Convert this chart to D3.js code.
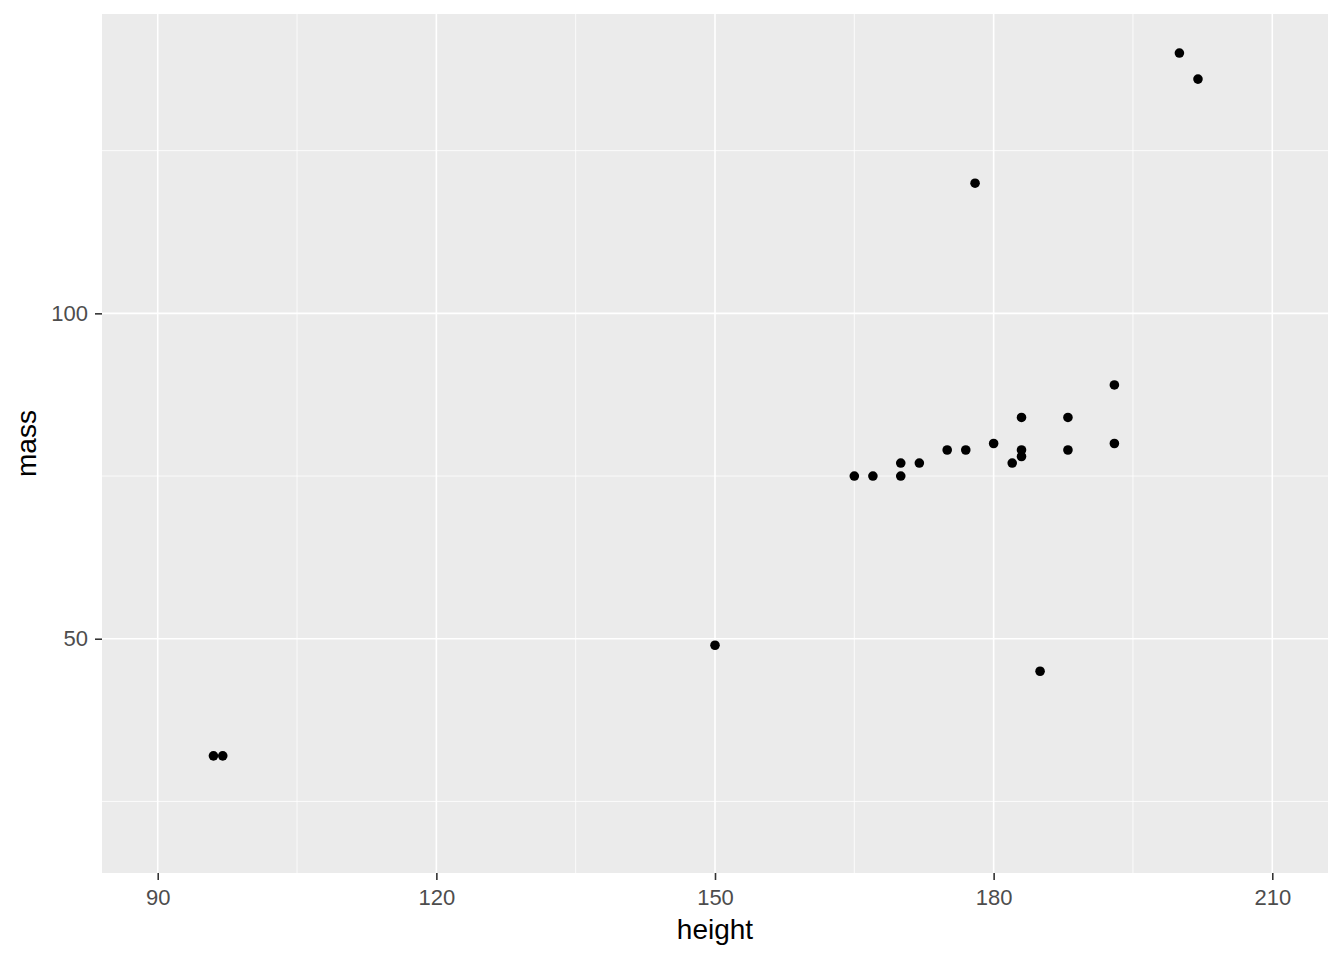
<!DOCTYPE html>
<html>
<head>
<meta charset="utf-8">
<script src="https://cdn.jsdelivr.net/npm/d3@7"></script>
<style>
  html, body { margin: 0; padding: 0; background: #ffffff; }
  svg { display: block; font-family: "Liberation Sans", Arial, sans-serif; }
</style>
</head>
<body>
<svg id="chart" width="1344" height="960"></svg>
<script>
// Data (height, mass)
const heights = [96, 97, 150, 200, 202, 178, 193, 193, 183, 188, 188, 180, 183, 183, 182, 177, 175, 172, 170, 170, 167, 165, 185];
const masses  = [32, 32, 49, 140, 136, 120, 89, 80, 84, 84, 79, 80, 79, 78, 77, 79, 79, 77, 77, 75, 75, 75, 45];
const xMajor = [90, 120, 150, 180, 210];
const xMinor = [105, 135, 165, 195];
const yMajor = [50, 100];
const yMinor = [25, 75, 125];
const xTitle = "height";
const yTitle = "mass";

const data = heights.map((h, i) => ({ x: h, y: masses[i] }));

const svg = d3.select("#chart");
const panel = { left: 102, right: 1328, top: 14, bottom: 873 };

const x = d3.scaleLinear().domain([84, 216]).range([panel.left, panel.right]);
const y = d3.scaleLinear().domain([14, 146]).range([panel.bottom, panel.top]);

svg.append("rect")
  .attr("x", panel.left).attr("y", panel.top)
  .attr("width", panel.right - panel.left).attr("height", panel.bottom - panel.top)
  .attr("fill", "#EBEBEB");

const grid = svg.append("g");
grid.selectAll(".xminor").data(xMinor).join("line")
  .attr("x1", d => x(d)).attr("x2", d => x(d))
  .attr("y1", panel.top).attr("y2", panel.bottom)
  .attr("stroke", "#fff").attr("stroke-width", 0.8);
grid.selectAll(".yminor").data(yMinor).join("line")
  .attr("y1", d => y(d)).attr("y2", d => y(d))
  .attr("x1", panel.left).attr("x2", panel.right)
  .attr("stroke", "#fff").attr("stroke-width", 0.8);
grid.selectAll(".xmajor").data(xMajor).join("line")
  .attr("x1", d => x(d)).attr("x2", d => x(d))
  .attr("y1", panel.top).attr("y2", panel.bottom)
  .attr("stroke", "#fff").attr("stroke-width", 1.6);
grid.selectAll(".ymajor").data(yMajor).join("line")
  .attr("y1", d => y(d)).attr("y2", d => y(d))
  .attr("x1", panel.left).attr("x2", panel.right)
  .attr("stroke", "#fff").attr("stroke-width", 1.6);

// Axes
const xAxis = d3.axisBottom(x).tickValues(xMajor).tickSize(7).tickPadding(9);
const gx = svg.append("g").attr("transform", `translate(0,${panel.bottom})`).call(xAxis);
gx.select(".domain").remove();
gx.selectAll(".tick line").attr("stroke", "#333333").attr("stroke-width", 1.6);
gx.selectAll(".tick text").attr("fill", "#4D4D4D").style("font-size", "22px");

const yAxis = d3.axisLeft(y).tickValues(yMajor).tickSize(7).tickPadding(7);
const gy = svg.append("g").attr("transform", `translate(${panel.left},0)`).call(yAxis);
gy.select(".domain").remove();
gy.selectAll(".tick line").attr("stroke", "#333333").attr("stroke-width", 1.6);
gy.selectAll(".tick text").attr("fill", "#4D4D4D").style("font-size", "22px");

// Points
svg.append("g").selectAll("circle").data(data).join("circle")
  .attr("cx", d => x(d.x)).attr("cy", d => y(d.y))
  .attr("r", 4.8).attr("fill", "#000");

// Titles
svg.append("text")
  .attr("x", (panel.left + panel.right) / 2).attr("y", 939)
  .attr("text-anchor", "middle").style("font-size", "28px").attr("fill", "#000")
  .text(xTitle);
svg.append("text")
  .attr("transform", `translate(36,${(panel.top + panel.bottom) / 2}) rotate(-90)`)
  .attr("text-anchor", "middle").style("font-size", "28px").attr("fill", "#000")
  .text(yTitle);
</script>
</body>
</html>
